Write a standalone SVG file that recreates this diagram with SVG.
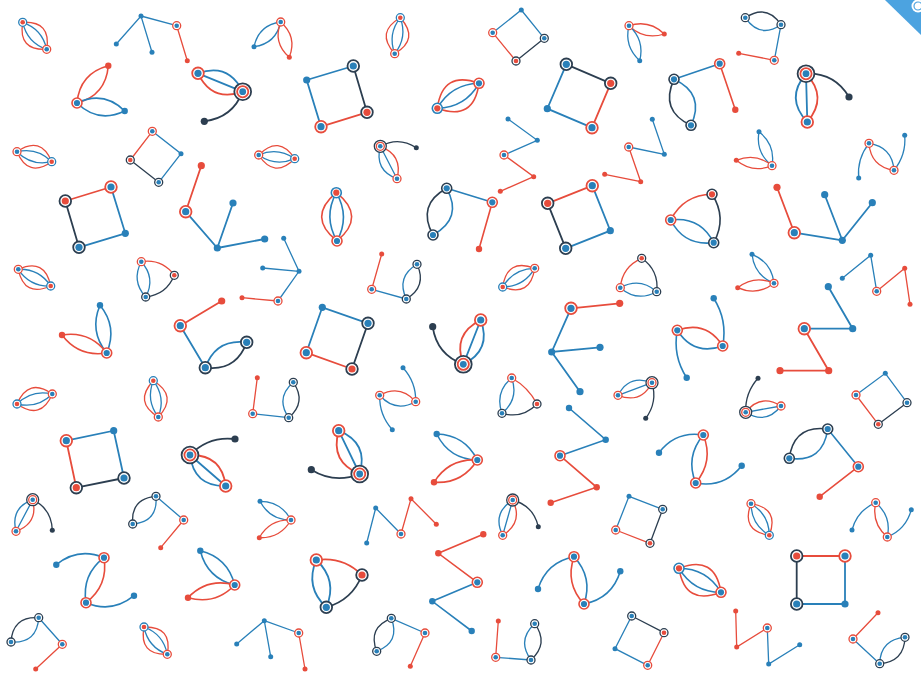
<svg xmlns="http://www.w3.org/2000/svg" width="921" height="677" viewBox="0 0 921 677">
<style>
path{fill:none;stroke-linecap:round}
.b1,.b2,.b3{stroke:#2980b9}
.r1,.r2,.r3{stroke:#e74c3c}
.d1,.d2,.d3{stroke:#2c3e50}
.b1,.r1,.d1{stroke-width:1.3}
.b2,.r2,.d2{stroke-width:1.6}
.b3,.r3,.d3{stroke-width:1.8}
.wr{fill:#fff;stroke:#e74c3c}
.wb{fill:#fff;stroke:#2980b9}
.wd{fill:#fff;stroke:#2c3e50}
.fb{fill:#2980b9}
.fr{fill:#e74c3c}
.fd{fill:#2c3e50}
.rib{fill:#4ca3e0;stroke:none}
</style>
<defs>
<g id="Srb"><circle r="4" class="wr" stroke-width="1.3"/><circle r="2.3" class="fb"/></g>
<g id="Sbr"><circle r="4" class="wb" stroke-width="1.3"/><circle r="2.3" class="fr"/></g>
<g id="Sdb"><circle r="4" class="wd" stroke-width="1.3"/><circle r="2.3" class="fb"/></g>
<g id="Sdr"><circle r="4" class="wd" stroke-width="1.3"/><circle r="2.3" class="fr"/></g>
<circle id="Sb" r="2.5" class="fb"/>
<circle id="Sr" r="2.5" class="fr"/>
<circle id="Sk" r="2.5" class="fd"/>
<g id="Sx"><circle r="6" class="wd" stroke-width="1.3"/><circle r="4" class="wr" stroke-width="1.3"/><circle r="2.3" class="fb"/></g>
<g id="Mrb"><circle r="5" class="wr" stroke-width="1.6"/><circle r="3.1" class="fb"/></g>
<g id="Mbr"><circle r="5" class="wb" stroke-width="1.6"/><circle r="3.1" class="fr"/></g>
<g id="Mdb"><circle r="5" class="wd" stroke-width="1.6"/><circle r="3.1" class="fb"/></g>
<g id="Mdr"><circle r="5" class="wd" stroke-width="1.6"/><circle r="3.1" class="fr"/></g>
<circle id="Mb" r="3.2" class="fb"/>
<circle id="Mr" r="3.2" class="fr"/>
<g id="Lrb"><circle r="5.8" class="wr" stroke-width="1.8"/><circle r="3.6" class="fb"/></g>
<g id="Ldb"><circle r="5.8" class="wd" stroke-width="1.8"/><circle r="3.6" class="fb"/></g>
<g id="Ldr"><circle r="5.8" class="wd" stroke-width="1.8"/><circle r="3.6" class="fr"/></g>
<circle id="Lb" r="3.6" class="fb"/>
<circle id="Lr" r="3.6" class="fr"/>
<circle id="Lk" r="3.6" class="fd"/>
<g id="Lx"><circle r="8.4" class="wd" stroke-width="1.8"/><circle r="5.6" class="wr" stroke-width="1.8"/><circle r="3.4" class="fb"/></g>
</defs>
<rect width="921" height="677" fill="#fff"/>
<g id="connectors">
<path class="r1" d="M22.7 22.3Q18 50.7 46.7 49.3M22.7 22.3Q51.4 20.9 46.7 49.3"/>
<path class="b1" d="M22.7 22.3Q27.1 42.5 46.7 49.3M22.7 22.3Q42.3 29.1 46.7 49.3"/>
<path class="b1" d="M116.3 44L141 16L152 52.3M141 16L176.7 25.7"/>
<path class="r1" d="M176.7 25.7L187.3 60.7"/>
<path class="r2" d="M77 103Q105.8 95.4 108.3 65.7M77 103Q79.6 73.4 108.3 65.7"/>
<path class="b2" d="M77 103Q98.1 123.7 124.7 111M77 103Q103.7 90.3 124.7 111"/>
<path class="r1" d="M17 151.7Q28.2 178.2 51.7 161.7M17 151.7Q40.6 135.2 51.7 161.7"/>
<path class="b1" d="M17 151.7Q31.6 166.4 51.7 161.7M17 151.7Q37.2 147 51.7 161.7"/>
<path class="b1" d="M152.3 131.3L181 153.7L158.7 182.3"/>
<path class="d1" d="M158.7 182.3L130.3 160"/>
<path class="r1" d="M130.3 160L152.3 131.3"/>
<path class="r3" d="M65.3 201L111 187"/>
<path class="b3" d="M111 187L125.3 233.3L79 247.3"/>
<path class="d3" d="M79 247.3L65.3 201"/>
<path class="r3" d="M201.3 165.7L185.7 211.7"/>
<path class="b3" d="M185.7 211.7L217.3 248L233 203M217.3 248L264.7 239"/>
<path class="b1" d="M280.7 22Q258.7 25 254 46.7M280.7 22Q276 43.7 254 46.7"/>
<path class="r1" d="M280.7 22Q272.6 42.7 289.3 57.3M280.7 22Q297.4 36.6 289.3 57.3"/>
<path class="r1" d="M400.3 17.7Q375.2 32.2 394.7 53.7M400.3 17.7Q419.8 39.2 394.7 53.7"/>
<path class="b1" d="M400.3 17.7Q387.4 34.1 394.7 53.7M400.3 17.7Q407.6 37.3 394.7 53.7"/>
<path class="b3" d="M321 126.7L306.7 80L353.3 66"/>
<path class="d3" d="M353.3 66L367 112.3"/>
<path class="r3" d="M367 112.3L321 126.7"/>
<path class="b3" d="M198 73.3Q228.6 62.4 242.7 91.7M198 73.3L242.7 91.7"/>
<path class="r3" d="M198 73.3Q212.1 102.6 242.7 91.7"/>
<path class="d3" d="M242.7 91.7Q232.4 118 204.3 121.3"/>
<path class="r1" d="M258.7 155Q274.4 179.2 294.7 158.7M258.7 155Q279 134.5 294.7 158.7"/>
<path class="b1" d="M258.7 155Q275.7 167 294.7 158.7M258.7 155Q277.7 146.8 294.7 158.7"/>
<path class="b1" d="M380.3 146.3Q374.1 170 397 178.7M380.3 146.3L397 178.7"/>
<path class="r1" d="M380.3 146.3Q403.2 155 397 178.7"/>
<path class="d1" d="M380.3 146.3Q398.7 136.2 416.3 147.7"/>
<path class="r2" d="M336.3 192.7Q306.7 217.3 337 241M336.3 192.7Q366.6 216.4 337 241"/>
<path class="b2" d="M336.3 192.7Q323.1 217 337 241M336.3 192.7Q350.2 216.7 337 241"/>
<path class="d2" d="M446.7 188.3Q416.5 204.8 433 235"/>
<path class="b2" d="M446.7 188.3Q463.2 218.5 433 235M446.7 188.3L492.3 202.3"/>
<path class="r2" d="M492.3 202.3L479 249"/>
<path class="b1" d="M492.7 32.7L521.3 10L544.3 38.3"/>
<path class="d1" d="M544.3 38.3L516 61"/>
<path class="r1" d="M516 61L492.7 32.7"/>
<path class="r1" d="M629 25.7Q644.2 40.4 664.3 34M629 25.7Q649.1 19.3 664.3 34"/>
<path class="b1" d="M629 25.7Q623.9 46.4 639.7 60.7M629 25.7Q644.9 40 639.7 60.7"/>
<path class="d3" d="M566.3 64.3L610.7 83.3"/>
<path class="r3" d="M610.7 83.3L592 127.7"/>
<path class="b3" d="M592 127.7L547.3 108.7L566.3 64.3"/>
<path class="r2" d="M437.3 108.3Q473.7 121.7 479 83.3M437.3 108.3Q442.7 70 479 83.3"/>
<path class="b2" d="M437.3 108.3Q465.2 107.5 479 83.3M437.3 108.3Q451.2 84.1 479 83.3"/>
<path class="b1" d="M508 119L537.3 140.3L504 155"/>
<path class="r1" d="M504 155L533.7 176.7L500.3 191.3"/>
<path class="b1" d="M652.3 119.3L664.3 154.3L628.7 147"/>
<path class="r1" d="M628.7 147L640.7 181.7L604.7 174.3"/>
<path class="r3" d="M547.7 203.3L592.3 185.7"/>
<path class="b3" d="M592.3 185.7L610.3 230.7L565.7 248.3"/>
<path class="d3" d="M565.7 248.3L547.7 203.3"/>
<path class="d2" d="M674 79.3Q659.5 110.8 691 125.3"/>
<path class="b2" d="M674 79.3Q705.5 93.8 691 125.3M674 79.3L719.7 63.7"/>
<path class="r2" d="M719.7 63.7L735.3 109.7"/>
<path class="r2" d="M670.7 220Q683.6 194.8 712 194.3"/>
<path class="d2" d="M712 194.3Q727.4 218 713.7 242.7"/>
<path class="b2" d="M670.7 220Q684.3 246.4 713.7 242.7M670.7 220Q700.2 216.3 713.7 242.7"/>
<path class="d1" d="M745.3 17.7Q766.7 3.4 781 24.7"/>
<path class="b1" d="M745.3 17.7Q759.7 39 781 24.7M781 24.7L774.3 60.3"/>
<path class="r1" d="M774.3 60.3L738.7 53.3"/>
<path class="b3" d="M806 73.7Q784.9 98.4 807.3 122M806 73.7L807.3 122"/>
<path class="r3" d="M806 73.7Q828.4 97.3 807.3 122"/>
<path class="d3" d="M806 73.7Q834.5 72.5 849 97"/>
<path class="b1" d="M759 131.7Q755.3 152.6 772 165.7M759 131.7Q775.7 144.8 772 165.7"/>
<path class="r1" d="M736.3 160.3Q752.5 173.7 772 165.7M736.3 160.3Q755.8 152.3 772 165.7"/>
<path class="b1" d="M869 143.3Q892.3 146.8 894 170.3M894 170.3Q906.4 154.9 904.7 135.3M869 143.3Q856.9 158.6 858.7 178"/>
<path class="r1" d="M869 143.3Q870.7 166.8 894 170.3"/>
<path class="r3" d="M777 187.3L794.3 232.7"/>
<path class="b3" d="M794.3 232.7L842.3 240.3L824.7 194.7M842.3 240.3L872.3 202.7"/>
<path class="r1" d="M18.3 269.3Q24.2 297.7 50.7 286M18.3 269.3Q44.9 257.6 50.7 286"/>
<path class="b1" d="M18.3 269.3Q29.8 286.7 50.7 286M18.3 269.3Q39.2 268.6 50.7 286"/>
<path class="r1" d="M141.3 261.7Q161.9 258.6 174.3 275.3"/>
<path class="d1" d="M174.3 275.3Q166.5 294.7 145.7 297"/>
<path class="b1" d="M141.3 261.7Q131.1 280.9 145.7 297M141.3 261.7Q155.9 277.8 145.7 297"/>
<path class="b2" d="M100 305.3Q89 331.2 106.7 353M100 305.3Q117.7 327.1 106.7 353"/>
<path class="r2" d="M62 335Q79 357.4 106.7 353M62 335Q89.8 330.6 106.7 353"/>
<path class="r3" d="M180.3 325.7L221.7 301"/>
<path class="b3" d="M180.3 325.7L205.3 367.7M205.3 367.7Q215.8 338.4 246.7 342.3"/>
<path class="d3" d="M205.3 367.7Q236.2 371.6 246.7 342.3"/>
<path class="r1" d="M153.3 380.7Q133.3 402 158.3 417M153.3 380.7Q178.3 395.8 158.3 417"/>
<path class="b1" d="M153.3 380.7Q145.6 400.3 158.3 417M153.3 380.7Q166 397.5 158.3 417"/>
<path class="r1" d="M17 404Q40.9 420.9 52.3 394M17 404Q28.5 377.1 52.3 394"/>
<path class="b1" d="M17 404Q37.5 408.9 52.3 394M17 404Q31.9 389.1 52.3 394"/>
<path class="b3" d="M66.3 440.7L113.7 430.7L124 478"/>
<path class="d3" d="M124 478L76.3 487.7"/>
<path class="r3" d="M76.3 487.7L66.3 440.7"/>
<path class="b1" d="M283.7 238.3L299 271.3L278 301M262.7 268L299 271.3"/>
<path class="r1" d="M278 301L242 297.7"/>
<path class="r1" d="M381.7 254L371.7 289.3"/>
<path class="b1" d="M371.7 289.3L406.3 299M406.3 299Q396 276.8 417 264.3"/>
<path class="d1" d="M406.3 299Q427.3 286.5 417 264.3"/>
<path class="b3" d="M306.3 352.7L322.3 307.3L368 323.3"/>
<path class="d3" d="M368 323.3L352 369"/>
<path class="r3" d="M352 369L306.3 352.7"/>
<path class="r3" d="M463.3 364.3Q452.1 334.3 480.7 320"/>
<path class="b3" d="M463.3 364.3L480.7 320M463.3 364.3Q491.9 350 480.7 320"/>
<path class="d3" d="M432.7 326.7Q436.7 354.7 463.3 364.3"/>
<path class="r1" d="M257.3 377.7L252.7 413.7"/>
<path class="b1" d="M252.7 413.7L288.7 417.7M288.7 417.7Q275.1 397.9 293.3 382.3"/>
<path class="d1" d="M288.7 417.7Q306.9 402.1 293.3 382.3"/>
<path class="b1" d="M403 367.7Q416.2 382.2 415.7 401.7M379.7 395.3Q395.1 412.9 415.7 401.7M379.7 395.3Q379.1 415 392.3 429.7"/>
<path class="r1" d="M379.7 395.3Q400.3 384.1 415.7 401.7"/>
<path class="r1" d="M534.7 268.3Q507.1 257.8 502.7 287M534.7 268.3Q530.3 297.5 502.7 287"/>
<path class="b1" d="M534.7 268.3Q513.5 268.7 502.7 287M534.7 268.3Q523.9 286.6 502.7 287"/>
<path class="r1" d="M641.7 258.3Q622.2 266.6 620.3 287.7"/>
<path class="d1" d="M641.7 258.3Q659.2 270.5 656.7 291.7"/>
<path class="b1" d="M620.3 287.7Q637.1 302.4 656.7 291.7M620.3 287.7Q639.9 277 656.7 291.7"/>
<path class="r3" d="M571 308.3L619.7 303.3"/>
<path class="b3" d="M571 308.3L551.7 352L600 347.3M551.7 352L580 391.7"/>
<path class="b2" d="M713.7 298.3Q727.7 320.4 722.7 346M677.3 330.3Q693.7 356.3 722.7 346M677.3 330.3Q672.5 355.9 686.7 377.7"/>
<path class="r2" d="M677.3 330.3Q706.3 320 722.7 346"/>
<path class="r1" d="M511.7 378Q528.3 387.2 537 404"/>
<path class="d1" d="M537 404Q522.3 419.2 502 413.3"/>
<path class="b1" d="M511.7 378Q494.5 392.3 502 413.3M511.7 378Q519.2 399 502 413.3"/>
<path class="b1" d="M618 395.3Q629.3 373.7 652 382.7M618 395.3L652 382.7"/>
<path class="r1" d="M618 395.3Q640.7 404.3 652 382.7"/>
<path class="d1" d="M652 382.7Q657.8 402.1 645.7 418.3"/>
<path class="b2" d="M569 408L605.7 439.7L560 455.7"/>
<path class="r2" d="M560 455.7L596.7 487.3L550.7 502.7"/>
<path class="b1" d="M752 254.3Q754.3 275.4 774 283.3M752 254.3Q771.7 262.2 774 283.3"/>
<path class="r1" d="M737.7 287.7Q757.2 296.4 774 283.3M737.7 287.7Q754.5 274.6 774 283.3"/>
<path class="b1" d="M842.3 278.3L870.7 255.3L876.7 291.3"/>
<path class="r1" d="M876.7 291.3L904.7 268.3L910 304.3"/>
<path class="b3" d="M828.3 286.7L852.7 328.7L804.3 328.7"/>
<path class="r3" d="M804.3 328.7L828.7 370.7L780 370.7"/>
<path class="r1" d="M745.7 412.3Q760.5 393.3 781 406"/>
<path class="b1" d="M745.7 412.3L781 406M745.7 412.3Q766.2 425 781 406"/>
<path class="d1" d="M758 378.3Q745 392.8 745.7 412.3"/>
<path class="b1" d="M856 395L885.3 373.3L907 402.7"/>
<path class="d1" d="M907 402.7L878.3 424.3"/>
<path class="r1" d="M878.3 424.3L856 395"/>
<path class="b1" d="M32.7 499.7Q10.1 508 16 531.3M32.7 499.7L16 531.3"/>
<path class="r1" d="M32.7 499.7Q38.6 523 16 531.3"/>
<path class="d1" d="M32.7 499.7Q51.7 509.1 52.3 530.3"/>
<path class="d1" d="M156 496.3Q130.5 498.5 132.7 524"/>
<path class="b1" d="M156 496.3Q158.2 521.8 132.7 524M156 496.3L183.7 520"/>
<path class="r1" d="M183.7 520L160.7 547.7"/>
<path class="r2" d="M104 557.7Q108.5 585.6 86 602.7"/>
<path class="b2" d="M104 557.7Q81.5 574.8 86 602.7M56.3 564.7Q78.1 546.9 104 557.7M86 602.7Q112.1 613.6 134 595.7"/>
<path class="b2" d="M200.3 550.7Q207.2 578.2 234.7 585M200.3 550.7Q227.8 557.5 234.7 585"/>
<path class="r2" d="M188 597.7Q215.2 605.4 234.7 585M188 597.7Q207.5 577.3 234.7 585"/>
<path class="d1" d="M38.7 617.7Q12.7 616 11 642"/>
<path class="b1" d="M38.7 617.7Q37 643.7 11 642M38.7 617.7L62.3 644.3"/>
<path class="r1" d="M62.3 644.3L35.7 669"/>
<path class="r1" d="M144 627Q138.7 655.1 167.3 654.3M144 627Q172.6 626.2 167.3 654.3"/>
<path class="b1" d="M144 627Q148 647.2 167.3 654.3M144 627Q163.3 634.1 167.3 654.3"/>
<path class="r3" d="M338.7 430.7Q329.7 461.8 359.7 474"/>
<path class="b3" d="M338.7 430.7L359.7 474M338.7 430.7Q368.7 442.9 359.7 474"/>
<path class="d3" d="M311.3 469.7Q334.4 484 359.7 474"/>
<path class="r3" d="M190 455Q221.8 454.4 225.7 486"/>
<path class="b3" d="M190 455L225.7 486M190 455Q193.9 486.6 225.7 486"/>
<path class="d3" d="M190 455Q208.5 435.8 235 439"/>
<path class="b1" d="M260 501.3Q269.9 520 291 520M260 501.3Q281.1 501.4 291 520"/>
<path class="r1" d="M259.3 537.7Q280.5 538.4 291 520M259.3 537.7Q269.8 519.3 291 520"/>
<path class="b1" d="M366.7 543L375.7 508L401 534"/>
<path class="r1" d="M401 534L411 498.7L436.3 524.3"/>
<path class="r3" d="M316.3 560Q342.9 556.1 362 575"/>
<path class="d3" d="M362 575Q352.2 600.1 326.3 607.3"/>
<path class="b3" d="M316.3 560Q304.7 587.2 326.3 607.3M316.3 560Q337.9 580.2 326.3 607.3"/>
<path class="r2" d="M483.3 534.3L438.3 553.3L477.3 582.3"/>
<path class="b2" d="M477.3 582.3L432.3 601.3L471.7 631"/>
<path class="b1" d="M236.7 644L264.3 620.7L270.7 656.7M264.3 620.7L298.7 633"/>
<path class="r1" d="M298.7 633L305 669"/>
<path class="d1" d="M391.3 618.3Q367.5 627.5 376.7 651.3"/>
<path class="b1" d="M391.3 618.3Q400.5 642.1 376.7 651.3M391.3 618.3L425 633"/>
<path class="r1" d="M425 633L410.3 666.3"/>
<path class="b1" d="M512.7 500Q491.8 513.2 502.7 535.3M512.7 500L502.7 535.3"/>
<path class="r1" d="M512.7 500Q523.6 522.2 502.7 535.3"/>
<path class="d1" d="M512.7 500Q533.5 505.7 538.3 526.7"/>
<path class="b1" d="M615.7 530L629 496.3L662.7 509.3"/>
<path class="d1" d="M662.7 509.3L650 543.3"/>
<path class="r1" d="M650 543.3L615.7 530"/>
<path class="r2" d="M574 556.7Q564.8 583.4 584 604"/>
<path class="b2" d="M574 556.7Q593.2 577.4 584 604M538 589Q546.3 562.1 574 556.7M584 604Q612 598.5 620.3 571.3"/>
<path class="r2" d="M679 568.3Q685.1 606.3 721 592.3M679 568.3Q714.9 554.3 721 592.3"/>
<path class="b2" d="M679 568.3Q693.3 592.1 721 592.3M679 568.3Q706.7 568.5 721 592.3"/>
<path class="r1" d="M498.3 621L495.7 657.3"/>
<path class="b1" d="M495.7 657.3L531 660M531 660Q516.5 640.2 534.7 623.7"/>
<path class="d1" d="M531 660Q549.2 643.5 534.7 623.7"/>
<path class="d1" d="M631.7 616L664 632.7"/>
<path class="r1" d="M664 632.7L647.7 665.3"/>
<path class="b1" d="M647.7 665.3L615 648.7L631.7 616"/>
<path class="b2" d="M659 452.7Q675.8 430.6 703.3 435M703.3 435Q685.1 456.7 695.7 483M695.7 483Q723.9 488.2 741.7 465.7"/>
<path class="r2" d="M703.3 435Q713.9 461.3 695.7 483"/>
<path class="d2" d="M827.7 429Q793.9 424.5 789.3 458.3"/>
<path class="b2" d="M827.7 429Q823.2 462.9 789.3 458.3M827.7 429L858.3 466.7"/>
<path class="r2" d="M858.3 466.7L819.7 496.7"/>
<path class="r1" d="M751 503.7Q740.6 530.8 769.3 535.3M751 503.7Q779.7 508.2 769.3 535.3"/>
<path class="b1" d="M751 503.7Q751.3 524.6 769.3 535.3M751 503.7Q769 514.4 769.3 535.3"/>
<path class="r1" d="M875.7 502.7Q871.2 523.3 887.3 537"/>
<path class="b1" d="M875.7 502.7Q891.8 516.4 887.3 537M852 530Q857 510.4 875.7 502.7M887.3 537Q906.1 529.4 911.3 509.7"/>
<path class="r3" d="M796.7 556L845 556"/>
<path class="b3" d="M845 556L845 604L796.7 604"/>
<path class="d3" d="M796.7 604L796.7 556"/>
<path class="r1" d="M735.7 611L736.7 647L767.3 628"/>
<path class="b1" d="M767.3 628L768.7 664L799.7 644.7"/>
<path class="r1" d="M878 612.7L853 639"/>
<path class="b1" d="M853 639L879.7 663.7M879.7 663.7Q880.5 639.1 905 637.3"/>
<path class="d1" d="M879.7 663.7Q904.2 661.9 905 637.3"/>
<path class="b2" d="M436.7 434Q449.2 459.2 477.3 460M436.7 434Q464.8 434.8 477.3 460"/>
<path class="r2" d="M434 482.3Q462.3 484.1 477.3 460M434 482.3Q449 458.2 477.3 460"/>
</g>
<g id="m1"><use href="#Sbr" x="22.7" y="22.3"/><use href="#Srb" x="46.7" y="49.3"/></g>
<g id="m2"><use href="#Sb" x="141" y="16"/><use href="#Sb" x="116.3" y="44"/><use href="#Sb" x="152" y="52.3"/><use href="#Srb" x="176.7" y="25.7"/><use href="#Sr" x="187.3" y="60.7"/></g>
<g id="m3"><use href="#Mrb" x="77" y="103"/><use href="#Mr" x="108.3" y="65.7"/><use href="#Mb" x="124.7" y="111"/></g>
<g id="m4"><use href="#Srb" x="17" y="151.7"/><use href="#Sbr" x="51.7" y="161.7"/></g>
<g id="m5"><use href="#Srb" x="152.3" y="131.3"/><use href="#Sb" x="181" y="153.7"/><use href="#Sdb" x="158.7" y="182.3"/><use href="#Sdr" x="130.3" y="160"/></g>
<g id="m6"><use href="#Ldr" x="65.3" y="201"/><use href="#Lrb" x="111" y="187"/><use href="#Lb" x="125.3" y="233.3"/><use href="#Ldb" x="79" y="247.3"/></g>
<g id="m7"><use href="#Lr" x="201.3" y="165.7"/><use href="#Lrb" x="185.7" y="211.7"/><use href="#Lb" x="217.3" y="248"/><use href="#Lb" x="233" y="203"/><use href="#Lb" x="264.7" y="239"/></g>
<g id="m8"><use href="#Srb" x="280.7" y="22"/><use href="#Sb" x="254" y="46.7"/><use href="#Sr" x="289.3" y="57.3"/></g>
<g id="m9"><use href="#Sbr" x="400.3" y="17.7"/><use href="#Srb" x="394.7" y="53.7"/></g>
<g id="m10"><use href="#Lb" x="306.7" y="80"/><use href="#Ldb" x="353.3" y="66"/><use href="#Ldr" x="367" y="112.3"/><use href="#Lrb" x="321" y="126.7"/></g>
<g id="m11"><use href="#Lx" x="242.7" y="91.7"/><use href="#Lrb" x="198" y="73.3"/><use href="#Lk" x="204.3" y="121.3"/></g>
<g id="m12"><use href="#Srb" x="258.7" y="155"/><use href="#Sbr" x="294.7" y="158.7"/></g>
<g id="m13"><use href="#Sx" x="380.3" y="146.3"/><use href="#Srb" x="397" y="178.7"/><use href="#Sk" x="416.3" y="147.7"/></g>
<g id="m14"><use href="#Mbr" x="336.3" y="192.7"/><use href="#Mrb" x="337" y="241"/></g>
<g id="m15"><use href="#Mdb" x="446.7" y="188.3"/><use href="#Mdb" x="433" y="235"/><use href="#Mrb" x="492.3" y="202.3"/><use href="#Mr" x="479" y="249"/></g>
<g id="m16"><use href="#Sb" x="521.3" y="10"/><use href="#Sdb" x="544.3" y="38.3"/><use href="#Sdr" x="516" y="61"/><use href="#Srb" x="492.7" y="32.7"/></g>
<g id="m17"><use href="#Srb" x="629" y="25.7"/><use href="#Sr" x="664.3" y="34"/><use href="#Sb" x="639.7" y="60.7"/></g>
<g id="m18"><use href="#Ldb" x="566.3" y="64.3"/><use href="#Ldr" x="610.7" y="83.3"/><use href="#Lrb" x="592" y="127.7"/><use href="#Lb" x="547.3" y="108.7"/></g>
<g id="m19"><use href="#Mbr" x="437.3" y="108.3"/><use href="#Mrb" x="479" y="83.3"/></g>
<g id="m20"><use href="#Sb" x="508" y="119"/><use href="#Sb" x="537.3" y="140.3"/><use href="#Srb" x="504" y="155"/><use href="#Sr" x="533.7" y="176.7"/><use href="#Sr" x="500.3" y="191.3"/></g>
<g id="m21"><use href="#Srb" x="628.7" y="147"/><use href="#Sb" x="652.3" y="119.3"/><use href="#Sb" x="664.3" y="154.3"/><use href="#Sr" x="640.7" y="181.7"/><use href="#Sr" x="604.7" y="174.3"/></g>
<g id="m22"><use href="#Ldr" x="547.7" y="203.3"/><use href="#Lrb" x="592.3" y="185.7"/><use href="#Lb" x="610.3" y="230.7"/><use href="#Ldb" x="565.7" y="248.3"/></g>
<g id="m23"><use href="#Mdb" x="674" y="79.3"/><use href="#Mdb" x="691" y="125.3"/><use href="#Mrb" x="719.7" y="63.7"/><use href="#Mr" x="735.3" y="109.7"/></g>
<g id="m24"><use href="#Mrb" x="670.7" y="220"/><use href="#Mdr" x="712" y="194.3"/><use href="#Mdb" x="713.7" y="242.7"/></g>
<g id="m25"><use href="#Sdb" x="745.3" y="17.7"/><use href="#Sdb" x="781" y="24.7"/><use href="#Srb" x="774.3" y="60.3"/><use href="#Sr" x="738.7" y="53.3"/></g>
<g id="m26"><use href="#Lx" x="806" y="73.7"/><use href="#Lrb" x="807.3" y="122"/><use href="#Lk" x="849" y="97"/></g>
<g id="m27"><use href="#Sb" x="759" y="131.7"/><use href="#Srb" x="772" y="165.7"/><use href="#Sr" x="736.3" y="160.3"/></g>
<g id="m28"><use href="#Srb" x="869" y="143.3"/><use href="#Srb" x="894" y="170.3"/><use href="#Sb" x="904.7" y="135.3"/><use href="#Sb" x="858.7" y="178"/></g>
<g id="m29"><use href="#Lr" x="777" y="187.3"/><use href="#Lrb" x="794.3" y="232.7"/><use href="#Lb" x="842.3" y="240.3"/><use href="#Lb" x="824.7" y="194.7"/><use href="#Lb" x="872.3" y="202.7"/></g>
<g id="m30"><use href="#Srb" x="18.3" y="269.3"/><use href="#Sbr" x="50.7" y="286"/></g>
<g id="m31"><use href="#Srb" x="141.3" y="261.7"/><use href="#Sdr" x="174.3" y="275.3"/><use href="#Sdb" x="145.7" y="297"/></g>
<g id="m32"><use href="#Mb" x="100" y="305.3"/><use href="#Mrb" x="106.7" y="353"/><use href="#Mr" x="62" y="335"/></g>
<g id="m33"><use href="#Lrb" x="180.3" y="325.7"/><use href="#Lr" x="221.7" y="301"/><use href="#Ldb" x="205.3" y="367.7"/><use href="#Ldb" x="246.7" y="342.3"/></g>
<g id="m34"><use href="#Sbr" x="153.3" y="380.7"/><use href="#Srb" x="158.3" y="417"/></g>
<g id="m35"><use href="#Sbr" x="17" y="404"/><use href="#Srb" x="52.3" y="394"/></g>
<g id="m36"><use href="#Lrb" x="66.3" y="440.7"/><use href="#Lb" x="113.7" y="430.7"/><use href="#Ldb" x="124" y="478"/><use href="#Ldr" x="76.3" y="487.7"/></g>
<g id="m38"><use href="#Sb" x="283.7" y="238.3"/><use href="#Sb" x="299" y="271.3"/><use href="#Sb" x="262.7" y="268"/><use href="#Srb" x="278" y="301"/><use href="#Sr" x="242" y="297.7"/></g>
<g id="m39"><use href="#Sr" x="381.7" y="254"/><use href="#Srb" x="371.7" y="289.3"/><use href="#Sdb" x="406.3" y="299"/><use href="#Sdb" x="417" y="264.3"/></g>
<g id="m40"><use href="#Lb" x="322.3" y="307.3"/><use href="#Ldb" x="368" y="323.3"/><use href="#Ldr" x="352" y="369"/><use href="#Lrb" x="306.3" y="352.7"/></g>
<g id="m41"><use href="#Lk" x="432.7" y="326.7"/><use href="#Lx" x="463.3" y="364.3"/><use href="#Lrb" x="480.7" y="320"/></g>
<g id="m42"><use href="#Sr" x="257.3" y="377.7"/><use href="#Srb" x="252.7" y="413.7"/><use href="#Sdb" x="288.7" y="417.7"/><use href="#Sdb" x="293.3" y="382.3"/></g>
<g id="m43"><use href="#Sb" x="403" y="367.7"/><use href="#Srb" x="415.7" y="401.7"/><use href="#Srb" x="379.7" y="395.3"/><use href="#Sb" x="392.3" y="429.7"/></g>
<g id="m46"><use href="#Srb" x="534.7" y="268.3"/><use href="#Sbr" x="502.7" y="287"/></g>
<g id="m47"><use href="#Sdr" x="641.7" y="258.3"/><use href="#Srb" x="620.3" y="287.7"/><use href="#Sdb" x="656.7" y="291.7"/></g>
<g id="m48"><use href="#Lrb" x="571" y="308.3"/><use href="#Lr" x="619.7" y="303.3"/><use href="#Lb" x="551.7" y="352"/><use href="#Lb" x="600" y="347.3"/><use href="#Lb" x="580" y="391.7"/></g>
<g id="m49"><use href="#Mrb" x="677.3" y="330.3"/><use href="#Mb" x="713.7" y="298.3"/><use href="#Mrb" x="722.7" y="346"/><use href="#Mb" x="686.7" y="377.7"/></g>
<g id="m50"><use href="#Srb" x="511.7" y="378"/><use href="#Sdr" x="537" y="404"/><use href="#Sdb" x="502" y="413.3"/></g>
<g id="m51"><use href="#Sx" x="652" y="382.7"/><use href="#Srb" x="618" y="395.3"/><use href="#Sk" x="645.7" y="418.3"/></g>
<g id="m52"><use href="#Mb" x="569" y="408"/><use href="#Mb" x="605.7" y="439.7"/><use href="#Mrb" x="560" y="455.7"/><use href="#Mr" x="596.7" y="487.3"/><use href="#Mr" x="550.7" y="502.7"/></g>
<g id="m54"><use href="#Sb" x="752" y="254.3"/><use href="#Srb" x="774" y="283.3"/><use href="#Sr" x="737.7" y="287.7"/></g>
<g id="m55"><use href="#Sb" x="842.3" y="278.3"/><use href="#Sb" x="870.7" y="255.3"/><use href="#Srb" x="876.7" y="291.3"/><use href="#Sr" x="904.7" y="268.3"/><use href="#Sr" x="910" y="304.3"/></g>
<g id="m56"><use href="#Lb" x="828.3" y="286.7"/><use href="#Lb" x="852.7" y="328.7"/><use href="#Lrb" x="804.3" y="328.7"/><use href="#Lr" x="828.7" y="370.7"/><use href="#Lr" x="780" y="370.7"/></g>
<g id="m57"><use href="#Sk" x="758" y="378.3"/><use href="#Sx" x="745.7" y="412.3"/><use href="#Srb" x="781" y="406"/></g>
<g id="m58"><use href="#Sb" x="885.3" y="373.3"/><use href="#Sdb" x="907" y="402.7"/><use href="#Sdr" x="878.3" y="424.3"/><use href="#Srb" x="856" y="395"/></g>
<g id="m60"><use href="#Sx" x="32.7" y="499.7"/><use href="#Srb" x="16" y="531.3"/><use href="#Sk" x="52.3" y="530.3"/></g>
<g id="m61"><use href="#Sdb" x="156" y="496.3"/><use href="#Sdb" x="132.7" y="524"/><use href="#Srb" x="183.7" y="520"/><use href="#Sr" x="160.7" y="547.7"/></g>
<g id="m62"><use href="#Mrb" x="104" y="557.7"/><use href="#Mrb" x="86" y="602.7"/><use href="#Mb" x="56.3" y="564.7"/><use href="#Mb" x="134" y="595.7"/></g>
<g id="m63"><use href="#Mb" x="200.3" y="550.7"/><use href="#Mrb" x="234.7" y="585"/><use href="#Mr" x="188" y="597.7"/></g>
<g id="m64"><use href="#Sdb" x="38.7" y="617.7"/><use href="#Sdb" x="11" y="642"/><use href="#Srb" x="62.3" y="644.3"/><use href="#Sr" x="35.7" y="669"/></g>
<g id="m65"><use href="#Sbr" x="144" y="627"/><use href="#Srb" x="167.3" y="654.3"/></g>
<g id="m66"><use href="#Lx" x="359.7" y="474"/><use href="#Lk" x="311.3" y="469.7"/><use href="#Lrb" x="338.7" y="430.7"/></g>
<g id="m67"><use href="#Lx" x="190" y="455"/><use href="#Lrb" x="225.7" y="486"/><use href="#Lk" x="235" y="439"/></g>
<g id="m68"><use href="#Sb" x="260" y="501.3"/><use href="#Srb" x="291" y="520"/><use href="#Sr" x="259.3" y="537.7"/></g>
<g id="m69"><use href="#Sb" x="366.7" y="543"/><use href="#Sb" x="375.7" y="508"/><use href="#Srb" x="401" y="534"/><use href="#Sr" x="411" y="498.7"/><use href="#Sr" x="436.3" y="524.3"/></g>
<g id="m70"><use href="#Lrb" x="316.3" y="560"/><use href="#Ldr" x="362" y="575"/><use href="#Ldb" x="326.3" y="607.3"/></g>
<g id="m71"><use href="#Mr" x="483.3" y="534.3"/><use href="#Mr" x="438.3" y="553.3"/><use href="#Mrb" x="477.3" y="582.3"/><use href="#Mb" x="432.3" y="601.3"/><use href="#Mb" x="471.7" y="631"/></g>
<g id="m72"><use href="#Sb" x="264.3" y="620.7"/><use href="#Sb" x="236.7" y="644"/><use href="#Sb" x="270.7" y="656.7"/><use href="#Srb" x="298.7" y="633"/><use href="#Sr" x="305" y="669"/></g>
<g id="m73"><use href="#Sdb" x="391.3" y="618.3"/><use href="#Sdb" x="376.7" y="651.3"/><use href="#Srb" x="425" y="633"/><use href="#Sr" x="410.3" y="666.3"/></g>
<g id="m74"><use href="#Sx" x="512.7" y="500"/><use href="#Srb" x="502.7" y="535.3"/><use href="#Sk" x="538.3" y="526.7"/></g>
<g id="m75"><use href="#Sb" x="629" y="496.3"/><use href="#Sdb" x="662.7" y="509.3"/><use href="#Sdr" x="650" y="543.3"/><use href="#Srb" x="615.7" y="530"/></g>
<g id="m76"><use href="#Mrb" x="574" y="556.7"/><use href="#Mrb" x="584" y="604"/><use href="#Mb" x="538" y="589"/><use href="#Mb" x="620.3" y="571.3"/></g>
<g id="m77"><use href="#Mbr" x="679" y="568.3"/><use href="#Mrb" x="721" y="592.3"/></g>
<g id="m78"><use href="#Sr" x="498.3" y="621"/><use href="#Srb" x="495.7" y="657.3"/><use href="#Sdb" x="531" y="660"/><use href="#Sdb" x="534.7" y="623.7"/></g>
<g id="m79"><use href="#Sdb" x="631.7" y="616"/><use href="#Sdr" x="664" y="632.7"/><use href="#Srb" x="647.7" y="665.3"/><use href="#Sb" x="615" y="648.7"/></g>
<g id="m81"><use href="#Mb" x="659" y="452.7"/><use href="#Mrb" x="703.3" y="435"/><use href="#Mrb" x="695.7" y="483"/><use href="#Mb" x="741.7" y="465.7"/></g>
<g id="m82"><use href="#Mdb" x="827.7" y="429"/><use href="#Mdb" x="789.3" y="458.3"/><use href="#Mrb" x="858.3" y="466.7"/><use href="#Mr" x="819.7" y="496.7"/></g>
<g id="m83"><use href="#Srb" x="751" y="503.7"/><use href="#Sbr" x="769.3" y="535.3"/></g>
<g id="m84"><use href="#Srb" x="875.7" y="502.7"/><use href="#Srb" x="887.3" y="537"/><use href="#Sb" x="911.3" y="509.7"/><use href="#Sb" x="852" y="530"/></g>
<g id="m85"><use href="#Ldr" x="796.7" y="556"/><use href="#Lrb" x="845" y="556"/><use href="#Lb" x="845" y="604"/><use href="#Ldb" x="796.7" y="604"/></g>
<g id="m86"><use href="#Sr" x="735.7" y="611"/><use href="#Sr" x="736.7" y="647"/><use href="#Srb" x="767.3" y="628"/><use href="#Sb" x="768.7" y="664"/><use href="#Sb" x="799.7" y="644.7"/></g>
<g id="m87"><use href="#Sr" x="878" y="612.7"/><use href="#Srb" x="853" y="639"/><use href="#Sdb" x="879.7" y="663.7"/><use href="#Sdb" x="905" y="637.3"/></g>
<g id="m88"><use href="#Mb" x="436.7" y="434"/><use href="#Mrb" x="477.3" y="460"/><use href="#Mr" x="434" y="482.3"/></g>
<g id="corner"><path class="rib" d="M885 0H921V35Z"/><circle cx="918" cy="6" r="6.5" fill="#fff"/><circle cx="918" cy="6" r="4" fill="none" stroke="#4ca3e0" stroke-width="1.2"/></g>
</svg>
